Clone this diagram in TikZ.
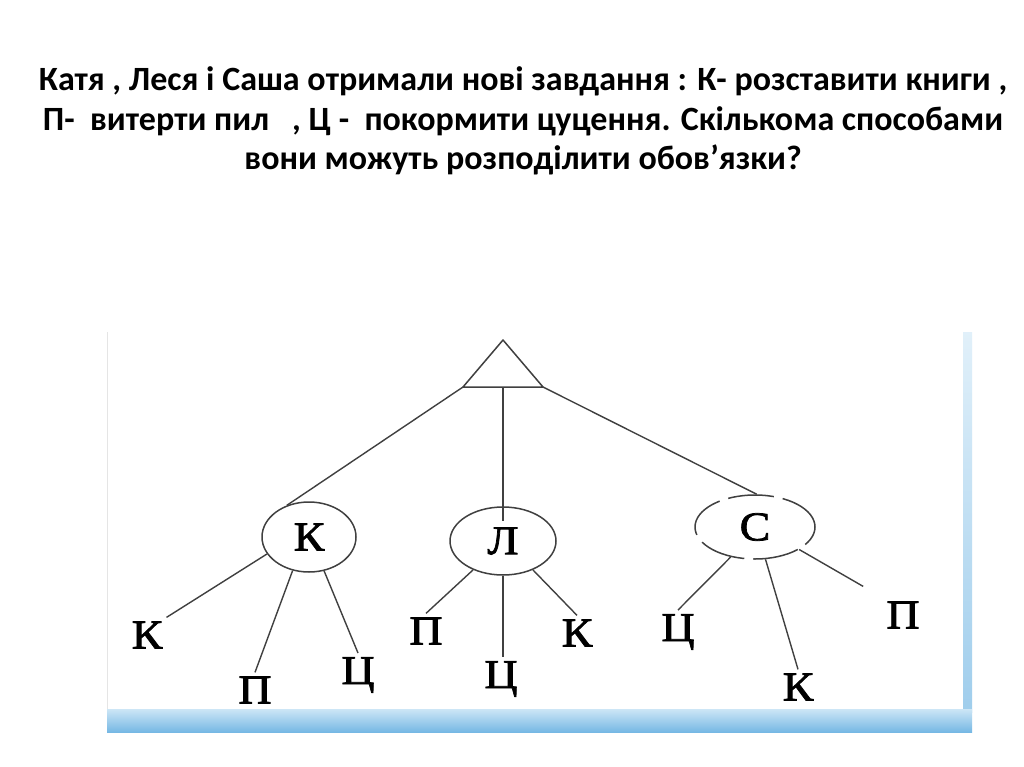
\documentclass[tikz,border=0pt]{standalone}
\usepackage{fontspec}
\setmainfont{Liberation Serif}
\newfontfamily\titlefont{Carlito}
\newfontfamily\treefont[FakeStretch=1.12, FakeBold=1.8]{Liberation Serif}
\usetikzlibrary{shapes.geometric, calc}
\definecolor{frameblue}{RGB}{118,184,228}
\definecolor{framelight}{RGB}{205,230,246}
\tikzset{
    person/.style={ellipse, draw=black!75, line width=1.5pt, inner sep=0pt, font=\treefont\fontsize{41}{41}\selectfont},
    person_gap/.style={person, dash pattern=on 46pt off 9pt},
    task/.style={inner sep=4pt, font=\treefont\fontsize{41}{41}\selectfont},
    rootline/.style={draw=black!75, line width=1.5pt, line join=round},
    link/.style={draw=black!75, line width=1.4pt},
    titlestyle/.style={font=\titlefont\bfseries\fontsize{34}{39.5}\selectfont, align=center}
}

\begin{document}
\begin{tikzpicture}[x=1pt, y=-1pt]
    \useasboundingbox (0,0) rectangle (1024,767);
    \fill[white] (0,0) rectangle (1024,767);
    % scanned picture frame
    \draw[black!10, line width=0.8pt] (107,332) -- (107,712);
    \shade[top color=framelight!60, bottom color=frameblue!70] (963,332) rectangle (972,712);
    \shade[top color=framelight, bottom color=frameblue] (107,709) rectangle (972,732);

    \node[titlestyle] (title) at (523,121) {Катя , Леся і Саша отримали нові завдання : К- розставити книги ,\\П-\ \ витерти пил\ \ \ , Ц -\ \ покормити цуцення. Скількома способами\\вони можуть розподілити обов’язки?};

    % root triangle
    \coordinate (apex) at (503,340);
    \coordinate (bl) at (463,387);
    \coordinate (br) at (543,387);
    \coordinate (bm) at (503,387);
    \draw[rootline] (apex) -- (bl) -- (br) -- cycle;

    % who takes the first task
    \node[person, minimum width=94pt, minimum height=70pt] (nk) at (309,537) {К};
    \node[person, minimum width=106pt, minimum height=68pt] (nl) at (503,541) {Л};
    \node[person_gap, minimum width=120pt, minimum height=64pt] (nc) at (755,527) {С};

    % tasks
    \node[task] (kk) at (147,635) {К};
    \node[task] (kp) at (255,690) {П};
    \node[task] (kc) at (358,675) {Ц};
    \node[task] (lp) at (426,631) {П};
    \node[task] (lc) at (501,679) {Ц};
    \node[task] (lk) at (577,633) {К};
    \node[task] (cc) at (678,632) {Ц};
    \node[task] (ck) at (798,687) {К};
    \node[task] (cp) at (903,615) {П};

    \draw[link] (bl) -- (nk.125);
    \draw[link] (bm) -- ([yshift=-15pt]nl.north);
    \draw[link] (br) -- (nc.87);
    \draw[link] (nk.202) -- (kk.north east);
    \draw[link] (nk.244) -- (kp.north);
    \draw[link] (nk.294) -- (kc.north);
    \draw[link] (nl.224) -- (lp.north);
    \draw[link] (nl.south) -- (nl.south |- lc.north);
    \draw[link] (nl.316) -- (lk.north);
    \draw[link] (nc.231) -- (cc.north);
    \draw[link] (nc.288) -- (ck.north);
    \draw[link, shorten >=22pt] (nc.333) -- (cp.north west);
\end{tikzpicture}
\end{document}
